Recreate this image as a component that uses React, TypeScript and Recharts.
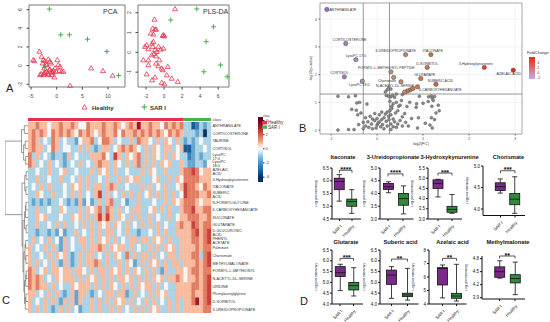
import {
  Bar, BarChart, CartesianGrid, Cell, ComposedChart, ReferenceArea, ReferenceLine,
  Scatter, ScatterChart, XAxis, YAxis,
} from 'recharts'

const FONT = '"Liberation Sans", Arial, sans-serif'
const RED = '#e8304c'
const GREEN = '#3da441'

// ---------- A: score plots ----------
const PCA_HEALTHY = [
  [-4.57, 0.61], [-4.37, 0.5], [-3.39, 1.51], [-2.93, 0.97], [-2.74, 0.25], [-2.61, 0.61], [-2.28, 0.5], [-2.15, 0.14], [-1.96, 0.07], [-1.63, 0.68],
  [-1.31, 0.43], [-1.11, 0.25], [-3.06, -0.89], [-2.61, -1.0], [-2.28, -0.75], [-1.96, -0.64], [-1.76, -0.89], [-1.44, -0.46], [-1.31, -0.39], [-0.98, -0.64],
  [-0.78, -0.75], [-0.65, -0.53], [-0.46, -1.25], [-0.33, -0.28], [-0.13, -0.64], [0.13, 0.61], [0.32, 0.07], [0.52, -0.57], [0.65, -0.11], [0.98, -0.64],
  [1.3, -0.64], [-2.5, -0.82], [-1.63, -1.0], [-0.98, -1.0], [2.6, -2.15], [6.7, -0.28], [9.0, -0.57], [10.9, -1.07], [-3.26, -1.0], [-2.41, -0.28],
]
const PCA_SAR = [[-1.44, 6.06], [0.78, 3.3], [2.47, 3.3], [6.0, 2.83], [9.77, 1.51], [12.04, -1.07], [-2.41, -0.18]]
const PLS_HEALTHY = [
  [1.22, 2.19], [-1.07, 1.66], [-1.26, 1.21], [-1.0, 1.16], [-0.89, 1.16], [-1.48, 0.96], [-1.19, 0.91], [-0.07, 0.88], [0.04, 0.82], [-0.15, 0.84],
  [-1.19, 0.54], [-1.33, 0.45], [-1.26, 0.29], [-1.93, 0.37], [-2.11, 0.29], [-1.74, 0.17], [-0.63, 0.29], [-0.37, 0.15], [-0.07, 0.2], [-1.0, 0.12],
  [-0.81, 0.03], [-1.11, -0.08], [-1.37, -0.14], [-0.89, -0.19], [-2.3, -0.39], [-1.74, -0.39], [-0.52, -0.39], [-1.74, -0.64], [-0.89, -0.56], [-0.63, -0.69],
  [-0.26, -0.81], [-0.15, -0.89], [0.41, -0.72], [0.3, -1.15], [-1.93, -1.1], [-1.0, -1.26], [-1.33, -1.4], [-0.26, -1.53], [0.04, -1.6], [0.85, -1.32], [1.52, -1.48],
]
const PLS_SAR = [[3.63, 2.19], [0.74, 1.63], [5.48, 1.29], [4.67, 0.54], [6.26, -0.64], [4.41, -0.98], [7.0, -1.23]]

// ---------- B: volcano ----------
const VOLC_SIG = [
  [-1.09, 4.35], [-0.68, 3.12], [-0.46, 2.54], [-0.71, 1.92], [-0.32, 1.76], [0.62, 2.72], [1.17, 2.72], [1.09, 2.26],
  [2.33, 2.26], [2.96, 2.16], [0.3, 2.1], [0.36, 1.9], [0.95, 1.86], [1.28, 1.65], [0.52, 1.74], [0.88, 1.56],
  [0.72, 1.45], [0.78, 1.5], [0.66, 1.41], [0.6, 1.37],
]
const VOLC_SIG_NAMES = [
  'ANTHRANILATE', 'CORTICOSTERONE', 'LysoPC 17:0', 'CORTISOL', 'LysoPC 18:0', '3-UREIDOPROPIONATE', 'ITACONATE', 'D-SORBITOL',
  '3-Hydroxykynurenine', 'AZELAIC ACID', 'FORMYL-L-METHIONYL PEPTIDE', 'Chorismate', 'GLUTARATE', 'SUBERIC ACID', 'N-ACETYL-DL-SERINE', '6-CARBOXYHEXANOATE',
  '', '', '', '',
]
const VOLC_NS = [
  [-0.85, 1.22], [-0.62, 1.2], [-0.47, 1.24], [0.2, 1.25], [0.25, 1.22], [0.3, 1.2], [0.34, 1.26], [0.38, 1.18], [0.42, 1.3], [0.92, 1.22],
  [1.12, 1.2], [1.18, 1.23], [1.25, 1.21], [1.2, 1.15], [0.55, 1.28], [0.22, 1.45], [0.25, 1.55], [0.3, 1.48], [0.18, 1.38], [-0.44, 0.98],
  [-0.38, 1.0], [-0.22, 0.94], [0.28, 1.04], [0.35, 0.95], [0.42, 1.0], [0.53, 1.07], [0.71, 1.0], [0.86, 0.95], [1.0, 0.97], [1.11, 1.03],
  [1.22, 1.07], [1.33, 0.9], [1.19, 0.86], [0.85, 0.82], [0.47, 0.86], [0.32, 0.86], [-0.55, 0.75], [-0.45, 0.72], [-0.35, 0.62], [-0.42, 0.55],
  [-0.25, 0.45], [-0.15, 0.5], [-0.1, 0.4], [-0.05, 0.35], [0.0, 0.42], [0.05, 0.3], [0.1, 0.38], [0.15, 0.45], [0.2, 0.32], [0.25, 0.5],
  [0.3, 0.55], [0.35, 0.4], [0.4, 0.62], [0.45, 0.7], [0.28, 0.7], [0.32, 0.78], [0.22, 0.65], [0.18, 0.58], [-0.2, 0.3], [-0.3, 0.28],
  [-0.4, 0.2], [-0.25, 0.15], [-0.12, 0.22], [0.0, 0.18], [0.08, 0.12], [0.12, 0.2], [0.22, 0.15], [0.3, 0.22], [0.38, 0.3], [0.42, 0.1],
  [0.5, 0.35], [0.55, 0.48], [0.6, 0.6], [0.75, 0.42], [0.9, 0.45], [1.05, 0.25], [1.18, 0.45], [1.25, 0.38], [1.15, 0.18], [1.2, 0.08],
  [0.88, 0.08], [0.68, 0.15], [-0.1, 0.05], [-0.02, 0.08], [0.15, 0.05], [0.3, 0.02], [-0.3, 0.06], [-0.5, 0.02], [-0.85, 0.0], [-0.62, 0.02],
  [0.05, 0.55], [-0.05, 0.6], [0.1, 0.65], [0.35, 0.12], [0.45, 0.22], [0.26, 0.38], [0.02, 0.25], [-0.18, 0.1], [0.55, 0.15], [0.62, 0.28],
  [1.28, 0.62], [1.35, 0.7], [0.65, 0.85], [0.5, 0.9],
]
// label placement: [anchor, dx, dy]
const LABEL_PLACE: [string, number, number][] = [
  ['start', 2.5, 1.3], ['middle', 3.8, -2.8], ['middle', 0, -2.8], ['middle', -5, -2.8], ['middle', -3, 5],
  ['middle', -10, -2.8], ['middle', 2, -2.8], ['middle', 0, -2.8], ['middle', -8.5, -2.8], ['middle', -4.5, 5],
  ['middle', -4.5, -2.8], ['middle', -6.5, 4.6], ['middle', 4, -2.8], ['middle', 4.5, -2.8], ['middle', -6, 4.8], ['start', 1.5, 3.8],
]

// ---------- C: heatmap ----------
const HEAT_LABELS = [
  'ANTHRANILATE', 'CORTICOSTERONE', 'TAURINE', 'CORTISOL', 'LysoPC 17:0', 'LysoPC 18:0', 'AZELAIC ACID', '3-Hydroxykynurenine',
  'ITACONATE', 'SUBERIC ACID', 'N-FORMYLGLYCINE', '6-CARBOXYHEXANOATE', 'SUCCINATE', 'GLUTARATE', 'D-GLUCURONIC ACID', 'PHENYL ACETATE',
  'Palmitate', 'Chorismate', 'METHYLMALONATE', 'FORMYL-L-METHIONYL', 'N-ACETYL-DL-SERINE', 'URIDINE', 'Phenylacetylglycine', 'D-SORBITOL', '3-UREIDOPROPIONATE',
]
// one digit per sample, 5 = 0 (z-score = (d - 5) * 0.8); 40 Healthy then 7 SAR I
const HEAT_ROWS = [
  '6676656676 6765576667 6676567696 6766576767 4412434',
  '6767657676 7657676567 6675766767 6767657676 4443404',
  '6764547645 4435667457 7645446476 6546465464 3434544',
  '6766457645 5446464346 6456767654 6465466456 1134454',
  '7464543443 6454446667 5486465674 6465464654 4234344',
  '7645464543 4546454676 6465464674 6464656446 4334435',
  '4454464456 4454446465 6464454446 4654464446 7787566',
  '4464454464 4546464454 6446465664 4456446465 7777666',
  '4546464445 4656464664 6764454446 4645464456 8776576',
  '4465446445 4646454684 6454646464 5646464645 8777667',
  '4343434454 3436353464 6744534464 4454464656 7776566',
  '4464454465 4446465674 7646454664 4564646446 7786677',
  '4465644454 4656464686 8646546464 4645446456 6777667',
  '4464454646 4454646465 6465464546 4646454467 6687677',
  '4434434353 4464546464 6645464434 4546464466 6678678',
  '4645464536 4546646465 6464546646 6465646446 6677678',
  '6454646436 4544646676 4656646454 4646465646 6667677',
  '6445464656 4346466454 6465474646 6464546646 6677478',
  '6464546436 4346466764 6446465346 4656464664 6667678',
  '7645646656 6466546466 4656464654 6464364466 5677677',
  '7676454656 6646465646 4646656464 6465646676 5667678',
  '7676646454 4656664646 4654646465 6646454466 6677678',
  '6645464643 4636643454 6646634645 4646564466 6676678',
  '6454646436 4636446464 6465646454 6464546464 6679678',
  '6464643464 6453446464 4646454646 4656446464 6666677',
]
const N_HEALTHY = 40
const N_SAR = 7
// dendrogram merges: [rowA, heightA, rowB, heightB, mergeHeight]
const DENDRO = [
  [0, 0, 1, 0, 1.6], [2, 0, 3, 0, 1.2], [4, 0, 5, 0, 1.0], [2.5, 1.2, 4.5, 1.0, 1.9], [0.5, 1.6, 3.5, 1.9, 2.8],
  [6, 0, 7, 0, 0.8], [8, 0, 9, 0, 0.9], [6.5, 0.8, 8.5, 0.9, 1.4], [10, 0, 11, 0, 0.9], [12, 0, 10.5, 0.9, 1.1],
  [13, 0, 14, 0, 0.8], [11.25, 1.1, 13.5, 0.8, 1.5], [15, 0, 16, 0, 1.0], [17, 0, 18, 0, 0.9], [15.5, 1.0, 17.5, 0.9, 1.3],
  [19, 0, 20, 0, 0.8], [21, 0, 19.5, 0.8, 1.0], [22, 0, 23, 0, 0.9], [22.5, 0.9, 24, 0, 1.2], [20.25, 1.0, 23.25, 1.2, 1.5],
  [16.5, 1.3, 21.75, 1.5, 1.8], [12.375, 1.5, 19.125, 1.8, 2.2], [7.5, 1.4, 15.75, 2.2, 2.6], [2.0, 2.8, 11.625, 2.6, 10],
]

// ---------- D: box plots ----------
const GROUPS = ['SAR I', 'Healthy']
const BOX_NAMES = ['Itaconate', '3-Ureidopropionate', '3-Hydroxykynurenine', 'Chorismate', 'Glutarate', 'Suberic acid', 'Azelaic acid', 'Methylmalonate']
// [min, q1, median, q3, max]
const BOX_SAR = [
  [5.2, 5.65, 5.97, 6.1, 6.24], [4.03, 4.16, 4.26, 4.39, 4.46], [4.08, 4.5, 4.75, 4.92, 4.95], [4.37, 4.43, 4.52, 4.61, 4.7],
  [4.62, 5.27, 5.45, 5.73, 5.84], [4.26, 4.91, 5.34, 5.57, 5.73], [4.45, 5.41, 6.64, 6.69, 6.89], [4.35, 4.37, 4.5, 4.61, 4.75],
]
const BOX_HEALTHY = [
  [4.72, 5.0, 5.18, 5.28, 5.65], [3.2, 3.54, 3.8, 4.0, 4.3], [3.28, 3.33, 3.47, 3.62, 4.2], [3.9, 4.1, 4.23, 4.36, 4.75],
  [4.37, 4.65, 4.85, 5.0, 5.68], [4.18, 4.34, 4.42, 4.5, 5.65], [4.22, 4.42, 4.59, 4.79, 6.94], [3.97, 4.24, 4.34, 4.43, 4.72],
]
const BOX_STARS = ['****', '****', '***', '***', '***', '**', '**', '**']
const BRACKET_Y = [6.41, 4.77, 5.25, 4.89, 6.11, 6.08, 7.38, 4.86]
const BOX_DOMAIN = [[4.5, 6.5], [3, 5], [3, 5.5], [3.85, 5.0], [4, 6.5], [4, 6.5], [4, 8], [3.87, 4.86]]
const BOX_TICKS = [
  [4.5, 5, 5.5, 6, 6.5], [3, 3.5, 4, 4.5, 5], [3, 3.5, 4, 4.5, 5, 5.5], [4, 4.5, 5],
  [4, 4.5, 5, 5.5, 6, 6.5], [4, 4.5, 5, 5.5, 6, 6.5], [4, 5, 6, 7, 8], [3.9, 4.2, 4.5, 4.8],
]
const TICK_DEC = [1, 1, 1, 1, 1, 1, 0, 1]

// layout (pixels): [axisX, plotTop, plotBottom, centre SAR I, centre Healthy, title centre]
const BOX_LAYOUT = [
  [332, 168, 219, 339.5, 352, 343], [380, 168, 219, 388, 403, 393], [428, 168, 219, 438, 452, 449.5], [483, 165.5, 215, 500.5, 515, 508.5],
  [332, 250, 304, 340, 353.5, 346], [380, 250, 304, 391.5, 407.5, 400.5], [429, 250, 304, 442.5, 456.5, 452.5], [481.5, 256, 299, 499, 514.5, 508],
]
const BOX_FILL = ['#7b2a8c', '#2f8a3c']

// ---------- colour ramps ----------
const HEAT_STOPS: [number, string][] = [
  [-4, '#053061'], [-3, '#2166ac'], [-2, '#4393c3'], [-1, '#92c5de'], [-0.5, '#d1e5f0'], [0, '#f7f7f7'],
  [0.5, '#fddbc7'], [1, '#f4a582'], [2, '#d6604d'], [3, '#b2182b'], [4, '#67001f'],
]
const DOT_STOPS: [number, string][] = [
  [-1.1, '#9a6bd0'], [-0.4, '#a48cae'], [0.3, '#b8917e'], [1.0, '#cc7048'], [2.3, '#e2472a'], [3.0, '#e8281c'],
]
const FC_GRAD: [number, string][] = [[6.5, '#f0281a'], [3, '#e05a4c'], [0, '#cf8aa8'], [-2.6, '#c4a6ec']]

function rgb(h: string) {
  const n = parseInt(h.slice(1), 16)
  return [(n >> 16) & 255, (n >> 8) & 255, n & 255]
}
function ramp(stops: [number, string][], v: number) {
  if (v <= stops[0][0]) return stops[0][1]
  for (let i = 1; i < stops.length; i++) {
    if (v <= stops[i][0]) {
      const [a, ca] = stops[i - 1]
      const [b, cb] = stops[i]
      const t = (v - a) / (b - a)
      const A = rgb(ca)
      const B = rgb(cb)
      return `rgb(${A.map((c, k) => Math.round(c + (B[k] - c) * t)).join(',')})`
    }
  }
  return stops[stops.length - 1][1]
}

const pts = (arr: number[][]) => arr.map(([x, y]) => ({ x, y }))

// ---------- shapes ----------
const Tri = (p: any) => {
  const { cx, cy } = p
  const s = 2.5
  return <path d={`M${cx},${cy - s}L${cx + s},${cy + s * 0.7}L${cx - s},${cy + s * 0.7}Z`} fill="none" stroke={RED} strokeWidth={0.8} />
}
const Plus = (p: any) => {
  const { cx, cy } = p
  const s = 2.6
  return <path d={`M${cx - s},${cy}H${cx + s}M${cx},${cy - s}V${cy + s}`} stroke={GREEN} strokeWidth={0.9} />
}
const VTick = (p: any) => {
  const x = p.x - 2
  return (
    <text x={x} y={p.y} transform={`rotate(-90 ${x} ${p.y})`} textAnchor="middle" fontSize={5} fill="#444" fontFamily={FONT}>
      {p.payload.value}
    </text>
  )
}
const HTick = (p: any) => (
  <text x={p.x} y={p.y + 6.5} textAnchor="middle" fontSize={5} fill="#444" fontFamily={FONT}>{p.payload.value}</text>
)

function ScoresPlot({ left, yw, plotW, domX, domY, ticksX, ticksY, healthy, sar }: any) {
  return (
    <div style={{ position: 'absolute', left, top: 0 }}>
      <ScatterChart width={yw + plotW + 1} height={102} margin={{ top: 5, right: 1, bottom: 0, left: 0 }}>
        <XAxis type="number" dataKey="x" domain={domX} ticks={ticksX} axisLine={false} tickSize={2.5} stroke="#444" tick={<HTick />} height={15} interval={0} />
        <YAxis type="number" dataKey="y" domain={domY} ticks={ticksY} axisLine={false} tickSize={2.5} stroke="#444" tick={<VTick />} width={yw} interval={0} />
        <ReferenceArea x1={domX[0]} x2={domX[1]} y1={domY[0]} y2={domY[1]} fill="none" stroke="#444" strokeWidth={0.7} ifOverflow="visible" />
        <Scatter data={pts(healthy)} shape={Tri} isAnimationActive={false} />
        <Scatter data={pts(sar)} shape={Plus} isAnimationActive={false} />
      </ScatterChart>
    </div>
  )
}

// ---------- volcano ----------
const SigDot = (p: any) => {
  const { cx, cy, payload } = p
  const pl = LABEL_PLACE[payload.i]
  return (
    <g>
      <circle cx={cx} cy={cy} r={2.2} fill={ramp(DOT_STOPS, payload.x)} stroke="#333" strokeWidth={0.4} />
      {payload.name && pl && (
        <text x={cx + pl[1]} y={cy + pl[2]} textAnchor={pl[0] as any} fontSize={3.6} fill="#333" fontFamily={FONT}>{payload.name}</text>
      )}
    </g>
  )
}
const NsDot = (p: any) => <circle cx={p.cx} cy={p.cy} r={1.5} fill="#8a8a8a" stroke="#444" strokeWidth={0.35} />

function Volcano() {
  const sig = VOLC_SIG.map(([x, y], i) => ({ x, y, name: VOLC_SIG_NAMES[i], i }))
  const dx: [number, number] = [-1.24, 3.15]
  const dy: [number, number] = [-0.14, 4.58]
  return (
    <div style={{ position: 'absolute', left: 306, top: 0 }}>
      <ScatterChart width={218} height={148} margin={{ top: 3, right: 2, bottom: 0, left: 0 }}>
        <CartesianGrid stroke="#e6e6e6" strokeWidth={0.5} />
        <XAxis type="number" dataKey="x" domain={dx} ticks={[-1, 0, 1, 2, 3]} axisLine={false} tickSize={1.5} tickMargin={1.5}
          stroke="#666" tick={{ fontSize: 4, fill: '#555' }} height={14} interval={0}
          label={{ value: 'log2(FC)', position: 'insideBottom', offset: 3, fontSize: 4, fill: '#333' }} />
        <YAxis type="number" dataKey="y" domain={dy} ticks={[0, 1, 2, 3, 4]} axisLine={false} tickSize={1.5} tickMargin={1.5}
          stroke="#666" tick={{ fontSize: 4, fill: '#555' }} width={14} interval={0}
          label={{ value: '-log10(p-value)', angle: -90, position: 'insideLeft', offset: 5, fontSize: 3.8, fill: '#333', style: { textAnchor: 'middle' } }} />
        <ReferenceArea x1={dx[0]} x2={dx[1]} y1={dy[0]} y2={dy[1]} fill="none" stroke="#8a8a8a" strokeWidth={0.7} ifOverflow="visible" />
        <ReferenceLine y={1.3} stroke="#8a8a8a" strokeWidth={0.9} />
        <ReferenceLine x={-0.3} stroke="#8a8a8a" strokeWidth={0.9} />
        <ReferenceLine x={0.27} stroke="#8a8a8a" strokeWidth={0.9} />
        <Scatter data={pts(VOLC_NS)} shape={NsDot} isAnimationActive={false} />
        <Scatter data={sig} shape={SigDot} isAnimationActive={false} />
      </ScatterChart>
    </div>
  )
}

function FcLegend() {
  const dom: [number, number] = [-2.6, 6.5]
  return (
    <div style={{ position: 'absolute', left: 529, top: 57 }}>
      <BarChart width={18} height={22} data={[{ k: 'fc', v: dom }]} margin={{ top: 0, right: 0, bottom: 0, left: 0 }} barCategoryGap={0}>
        <defs>
          <linearGradient id="fcGrad" x1="0" y1="0" x2="0" y2="1">
            {FC_GRAD.map(([v, c]) => <stop key={v} offset={(dom[1] - v) / (dom[1] - dom[0])} stopColor={c} />)}
          </linearGradient>
        </defs>
        <XAxis dataKey="k" type="category" hide />
        <YAxis orientation="right" type="number" domain={dom} ticks={[-2, 0, 2, 4]} width={12} tickSize={1.2} tickMargin={1}
          axisLine={false} stroke="#fff" tick={{ fontSize: 3.5, fill: '#444' }} interval={0} />
        <Bar dataKey="v" fill="url(#fcGrad)" isAnimationActive={false} />
      </BarChart>
    </div>
  )
}

// ---------- heatmap ----------
const NCOL = N_HEALTHY + N_SAR
const HEAT_VALUES = HEAT_ROWS.map((r) => r.replace(/ /g, '').slice(0, NCOL).split('').map((c) => (Number(c) - 5) * 0.8))

function Heatmap() {
  const data = HEAT_LABELS.map((name) => {
    const o: any = { name }
    for (let j = 0; j < NCOL; j++) o['c' + j] = 1
    return o
  })
  const cols = Array.from({ length: NCOL }, (_, j) => j)
  return (
    <div style={{ position: 'absolute', left: 28, top: 122 }}>
      <BarChart layout="vertical" width={243} height={191} data={data} margin={{ top: 0, right: 0, bottom: 0, left: 0 }} barCategoryGap={0}>
        <XAxis type="number" hide domain={[0, NCOL]} />
        <YAxis type="category" dataKey="name" orientation="right" width={60} tickSize={0} tickMargin={1.5}
          axisLine={false} tickLine={false} interval={0} tick={{ fontSize: 3.8, fill: '#333' }} />
        {cols.map((j) => (
          <Bar key={j} dataKey={'c' + j} stackId="h" isAnimationActive={false}>
            {HEAT_VALUES.map((row, i) => {
              const f = ramp(HEAT_STOPS, row[j] ?? 0)
              return <Cell key={i} fill={f} stroke={f} strokeWidth={0.35} />
            })}
          </Bar>
        ))}
      </BarChart>
    </div>
  )
}

function ClassBar() {
  return (
    <div style={{ position: 'absolute', left: 28, top: 117.5 }}>
      <BarChart layout="vertical" width={243} height={3.5} data={[{ name: 'class', healthy: N_HEALTHY, sar: N_SAR }]}
        margin={{ top: 0, right: 0, bottom: 0, left: 0 }} barCategoryGap={0}>
        <XAxis type="number" hide domain={[0, NCOL]} />
        <YAxis type="category" dataKey="name" orientation="right" width={60} tickSize={0} tickMargin={1.5}
          axisLine={false} tickLine={false} interval={0} tick={{ fontSize: 3.8, fill: '#333' }} />
        <Bar dataKey="healthy" stackId="c" fill={RED} isAnimationActive={false} />
        <Bar dataKey="sar" stackId="c" fill="#4caf50" isAnimationActive={false} />
      </BarChart>
    </div>
  )
}

function Dendrogram() {
  return (
    <div style={{ position: 'absolute', left: 5, top: 122 }}>
      <ScatterChart width={23} height={191} margin={{ top: 0, right: 0, bottom: 0, left: 0 }}>
        <XAxis type="number" dataKey="x" domain={[0, 10]} reversed hide />
        <YAxis type="number" dataKey="y" domain={[-0.5, 24.5]} reversed hide />
        {DENDRO.map(([a, ha, b, hb, h], k) => (
          <Scatter key={k} data={[{ x: ha, y: a }, { x: h, y: a }, { x: h, y: b }, { x: hb, y: b }]}
            line={{ stroke: '#555', strokeWidth: 0.6 }} fill="#555" shape={() => <g />} isAnimationActive={false} />
        ))}
      </ScatterChart>
    </div>
  )
}

function HeatLegend() {
  const dom: [number, number] = [-4.7, 4.5]
  return (
    <div style={{ position: 'absolute', left: 258, top: 117 }}>
      <BarChart width={16} height={65} data={[{ k: 'z', v: dom }]} margin={{ top: 0, right: 0, bottom: 0, left: 0 }} barCategoryGap={0}>
        <defs>
          <linearGradient id="heatGrad" x1="0" y1="0" x2="0" y2="1">
            {[...HEAT_STOPS].reverse().map(([v, c]) => <stop key={v} offset={(dom[1] - v) / (dom[1] - dom[0])} stopColor={c} />)}
          </linearGradient>
        </defs>
        <XAxis dataKey="k" type="category" hide />
        <YAxis orientation="right" type="number" domain={dom} ticks={[-4, -2, 0, 2, 4]} width={11} tickSize={1.5} tickMargin={1}
          axisLine={false} stroke="#333" tick={{ fontSize: 4, fill: '#333' }} interval={0} />
        <Bar dataKey="v" fill="url(#heatGrad)" isAnimationActive={false} />
      </BarChart>
    </div>
  )
}

// ---------- box plots ----------
const BoxShape = (p: any) => {
  const { x, y, width, height, payload, index } = p
  const top = Math.min(y, y + height)
  const h = Math.abs(height)
  const [mn, q1, md, q3, mx] = payload.box
  const py = (v: number) => top + (h * (mx - v)) / (mx - mn)
  const cx = x + width / 2
  const cap = 2.6
  return (
    <g stroke="#111" strokeWidth={0.8}>
      <line x1={cx} x2={cx} y1={py(mx)} y2={py(mn)} />
      <line x1={cx - cap} x2={cx + cap} y1={py(mx)} y2={py(mx)} />
      <line x1={cx - cap} x2={cx + cap} y1={py(mn)} y2={py(mn)} />
      <rect x={x} y={py(q3)} width={width} height={py(q1) - py(q3)} fill={BOX_FILL[index]} />
      <line x1={x} x2={x + width} y1={py(md)} y2={py(md)} />
    </g>
  )
}
const RotTick = (p: any) => (
  <g transform={`translate(${p.x + 1.5},${p.y + 2.5}) rotate(-45)`}>
    <text x={0} y={0} dy="0.35em" textAnchor="end" fontSize={4.3} fill="#111" fontFamily={FONT}>{p.payload.value}</text>
  </g>
)

function BoxPanel({ i }: { i: number }) {
  const [ax, top, bottom, c1, c2] = BOX_LAYOUT[i]
  const band = c2 - c1
  const padL = c1 - ax - band / 2
  const padR = 3
  const plotW = padL + 2 * band + padR
  const YW = 17
  const MT = 10
  const XH = 21
  const [lo, hi] = BOX_DOMAIN[i]
  const rows = [
    { g: GROUPS[0], box: BOX_SAR[i], range: [BOX_SAR[i][0], BOX_SAR[i][4]] },
    { g: GROUPS[1], box: BOX_HEALTHY[i], range: [BOX_HEALTHY[i][0], BOX_HEALTHY[i][4]] },
  ]
  const b = BRACKET_Y[i]
  const drop = ((hi - lo) * 2.5) / (bottom - top)
  return (
    <div style={{ position: 'absolute', left: ax - YW, top: top - MT }}>
      <ComposedChart width={YW + plotW} height={MT + bottom - top + XH} data={rows} margin={{ top: MT, right: 0, bottom: 0, left: 0 }}>
        <XAxis dataKey="g" type="category" padding={{ left: padL, right: padR }} height={XH} tickSize={2} stroke="#111"
          tick={<RotTick />} interval={0} />
        <YAxis type="number" domain={[lo, hi]} ticks={BOX_TICKS[i]} width={YW} tickSize={2} tickMargin={1} stroke="#111" interval={0}
          tickFormatter={(v: number) => v.toFixed(TICK_DEC[i])} tick={{ fontSize: 4.5, fill: '#111' }}
          label={{ value: 'Log [Ion Intensity]', angle: -90, position: 'insideLeft', offset: 1, fontSize: 3.4, fill: '#111', style: { textAnchor: 'middle' } }} />
        <Bar dataKey="range" barSize={10} shape={BoxShape} isAnimationActive={false} />
        <ReferenceLine segment={[{ x: GROUPS[0], y: b }, { x: GROUPS[1], y: b }]} stroke="#111" strokeWidth={0.7} ifOverflow="visible"
          label={{ value: BOX_STARS[i], position: 'top', offset: -1.5, fontSize: 7, fill: '#111', fontWeight: 700 }} />
        <ReferenceLine segment={[{ x: GROUPS[0], y: b }, { x: GROUPS[0], y: b - drop }]} stroke="#111" strokeWidth={0.7} ifOverflow="visible" />
        <ReferenceLine segment={[{ x: GROUPS[1], y: b }, { x: GROUPS[1], y: b - drop }]} stroke="#111" strokeWidth={0.7} ifOverflow="visible" />
      </ComposedChart>
    </div>
  )
}

export default function App() {
  return (
    <div style={{ position: 'absolute', left: 0, top: 0, width: 550, height: 322, background: '#fff', overflow: 'hidden', fontFamily: FONT }}>
      <ScoresPlot left={15} yw={14} plotW={96} domX={[-5.4, 13.3]} domY={[-2.3, 6.5]} ticksX={[-5, 0, 5, 10]} ticksY={[-2, 0, 2, 4, 6]}
        healthy={PCA_HEALTHY} sar={PCA_SAR} />
      <ScoresPlot left={124} yw={14} plotW={91} domX={[-2.89, 7.2]} domY={[-1.75, 2.39]} ticksX={[-2, 0, 2, 4, 6]} ticksY={[-1, 0, 1, 2]}
        healthy={PLS_HEALTHY} sar={PLS_SAR} />
      <Volcano />
      <FcLegend />
      <Dendrogram />
      <ClassBar />
      <Heatmap />
      <HeatLegend />
      {BOX_NAMES.map((_, i) => <BoxPanel key={i} i={i} />)}

      <svg width={550} height={322} style={{ position: 'absolute', left: 0, top: 0, pointerEvents: 'none' }} fontFamily={FONT}>
        <text x={103} y={14} fontSize={7} fill="#333">PCA</text>
        <text x={203} y={14} fontSize={7} fill="#333">PLS-DA</text>
        <path d="M84.5,104.5L87,109L82,109Z" fill="none" stroke={RED} strokeWidth={0.8} />
        <text x={92} y={110} fontSize={6} fill="#333" fontWeight={600}>Healthy</text>
        <path d="M141.5,107H147M144.25,104.2V109.8" stroke={GREEN} strokeWidth={1} />
        <text x={150} y={110} fontSize={6} fill="#333" fontWeight={600}>SAR I</text>

        <text x={527} y={54} fontSize={4} fill="#333">FoldChange</text>

        <text x={263} y={117.4} fontSize={3} fill="#333">class</text>
        <rect x={262} y={121} width={5} height={3.4} fill={RED} />
        <rect x={262} y={125.4} width={5} height={3.4} fill="#4caf50" />
        <text x={268} y={124.4} fontSize={4.5} fill="#333">Healthy</text>
        <text x={268} y={128.8} fontSize={4.5} fill="#333">SAR I</text>

        {BOX_NAMES.map((n, i) => (
          <text key={n} x={BOX_LAYOUT[i][5]} y={i < 4 ? 159 : 244} fontSize={5.7} fontWeight={700}
            textAnchor="middle" fill="#111">{n}</text>
        ))}

        <text x={6} y={92} fontSize={11} fill="#222">A</text>
        <text x={299} y={132} fontSize={11} fill="#222">B</text>
        <text x={2} y={304} fontSize={11} fill="#222">C</text>
        <text x={300} y={305} fontSize={11} fill="#222">D</text>
      </svg>
    </div>
  )
}
